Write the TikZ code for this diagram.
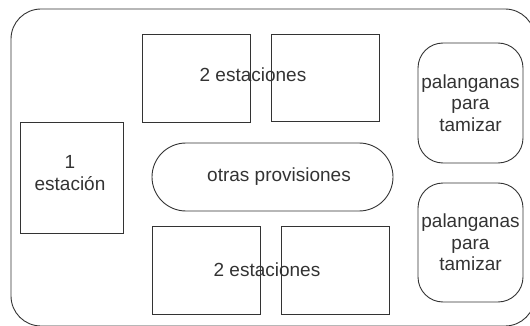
\documentclass[tikz,border=0pt]{standalone}
\usepackage{fontspec}
\setmainfont{Liberation Sans}
\begin{document}
\begin{tikzpicture}[x=1pt,y=-1pt,
  every node/.style={font=\fontsize{19}{21.5}\selectfont, text=black!80, inner sep=0pt, align=center},
  stationbox/.style={draw=black!80, line width=0.9pt, minimum width=#1},
  stationbox/.default=108pt,
  basin/.style={draw=black!80, line width=0.9pt, rounded corners=25pt, minimum width=105pt, minimum height=120pt},
  pill/.style={draw=black!80, line width=0.9pt, rounded corners=34pt, minimum width=241pt, minimum height=68pt}]
\useasboundingbox (0,0) rectangle (530,326);
\draw[black!80, line width=0.9pt, rounded corners=30pt] (11,9) rectangle (535,326);
\node[stationbox, minimum height=88pt] (a) at (196,78) {};
\node[stationbox, minimum height=87pt] (b) at (325,77.5) {};
\node (ta) at (253,75) {2 estaciones};
\node[stationbox=103pt, minimum height=111pt] (l) at (71.5,177.5) {};
\node (tl) at (70,173) {1\\estación};
\node[pill] (p) at (272.5,177) {};
\node (tp) at (279,177) {otras provisiones};
\node[stationbox, minimum height=88pt] (c) at (206,270) {};
\node[stationbox, minimum height=88pt] (d) at (335,270) {};
\node (tc) at (267,270) {2 estaciones};
\node[basin] (s1) at (470.5,103) {palanganas\\para\\tamizar};
\node[basin, minimum height=119pt] (s2) at (470.5,242.5) {palanganas\\para\\tamizar};
\end{tikzpicture}
\end{document}
